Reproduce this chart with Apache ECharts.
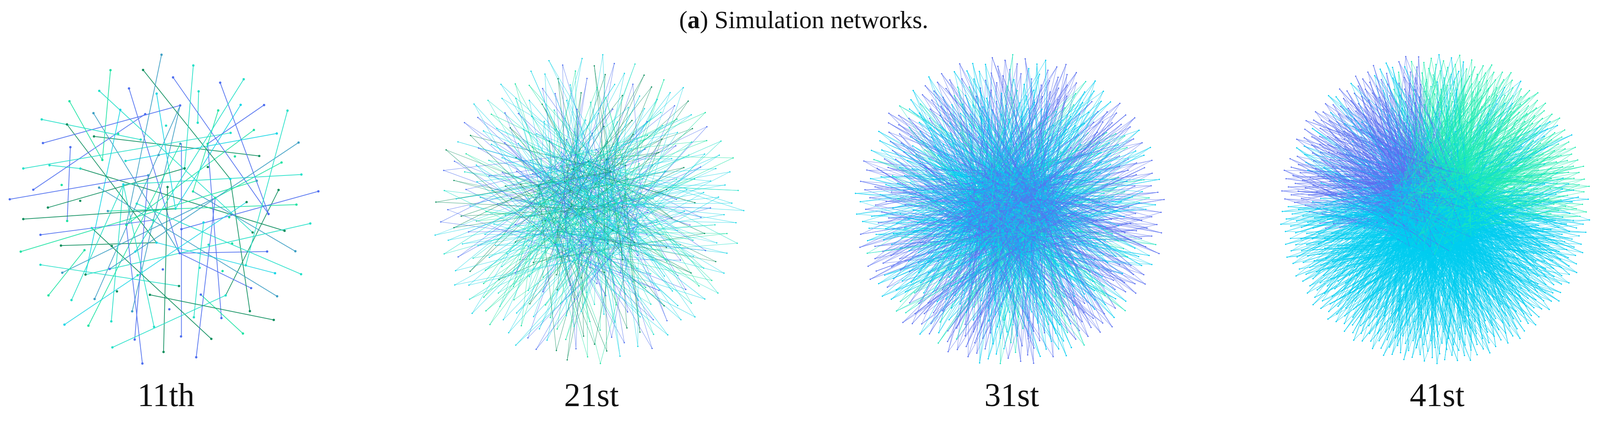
<!DOCTYPE html>
<html>
<head>
<meta charset="UTF-8">
<script src="https://cdn.jsdelivr.net/npm/echarts@6/dist/echarts.min.js"></script>
<style>
  body { margin: 0; background: #fff; }
  #chart { width: 4115px; height: 1095px; }
</style>
</head>
<body>
<div id="chart"></div>
<script>
// 面板标签与网络规模
const panelLabels = ['11th', '21st', '31st', '41st']
const nodeCounts = [130, 380, 800, 1200]
const hubCounts = [60, 50, 70, 110]
const linksPerNode = [1, 2, 3, 3]
const palettes = [
  ['#1fe3a4', '#18d6e6', '#4f6ff0', '#0d8f5e', '#3d9fc4', '#22e0c8'],
  ['#1fe3a4', '#18d6e6', '#4f6ff0', '#22e0c8', '#18d6e6', '#0d8f5e'],
  ['#00cdf0', '#00cdf0', '#3fc4f0', '#5a6ff0', '#00cdf0', '#22e3c0'],
  ['#00cdf0', '#5a6ff0', '#22ecb0']
]

const GOLDEN = Math.PI * (3 - Math.sqrt(5))
const hash = (a, b) => (Math.imul(a + 1, 2654435761) ^ Math.imul(b + 7, 40503)) >>> 0

function nodeColor(p, i, x, y) {
  const pal = palettes[p]
  const h = hash(i, 1) % 100
  if (p === 3) {
    // 41st: 左上偏蓝，右上偏绿，下方青色
    if (y > 0.05 + (h - 50) / 250) return pal[0]
    if (x < -0.05 + (h - 50) / 200) return h < 80 ? pal[1] : pal[0]
    return h < 80 ? pal[2] : pal[0]
  }
  if (p === 2) {
    const r = Math.sqrt(x * x + y * y)
    if (r > 0.75 && h < 55) return pal[3]
    if (h < 8) return pal[3]
    return h < 85 ? pal[0] : pal[5]
  }
  return pal[h % pal.length]
}

function buildPanel(p) {
  const n = nodeCounts[p]
  const nodes = []
  for (let i = 0; i < n; i++) {
    const r = Math.sqrt((i + 0.5) / n)
    const a = i * GOLDEN
    const x = r * Math.cos(a), y = r * Math.sin(a)
    const c = nodeColor(p, i, x, y)
    nodes.push({ id: String(i), x: x * 100, y: y * 100, itemStyle: { color: c } })
  }
  const links = []
  for (let i = hubCounts[p]; i < n; i++) {
    for (let j = 0; j < linksPerNode[p]; j++) {
      const t = hash(i, j + 10) % hubCounts[p]
      links.push({ source: String(i), target: String(t), lineStyle: { color: nodes[i].itemStyle.color } })
    }
  }
  return { nodes, links }
}

const centersX = [420, 1509, 2585, 3674]
const size = 790
const series = panelLabels.map((lab, p) => {
  const g = buildPanel(p)
  return {
    type: 'graph',
    layout: 'none',
    left: centersX[p] - size / 2,
    top: 140,
    width: size,
    height: size,
    symbolSize: p === 0 ? 6 : 3.5,
    data: g.nodes,
    links: g.links,
    lineStyle: { width: p === 0 ? 2 : 1, opacity: p === 0 ? 0.9 : 0.8 },
    animation: false,
    silent: true
  }
})

const chart = echarts.init(document.getElementById('chart'))
chart.setOption({
  backgroundColor: '#fff',
  title: [
    { text: '({b|a}) Simulation networks.', left: 'center', top: 18,
      textStyle: { fontFamily: 'Liberation Serif', fontSize: 64, fontWeight: 'normal', color: '#111',
        rich: { b: { fontFamily: 'Liberation Serif', fontSize: 64, fontWeight: 'bold', color: '#111' } } } },
    ...panelLabels.map((lab, p) => ({
      text: lab, left: centersX[p], top: 970, textAlign: 'center',
      textStyle: { fontFamily: 'Liberation Serif', fontSize: 84, fontWeight: 'normal', color: '#111' }
    }))
  ],
  series
})
</script>
</body>
</html>
